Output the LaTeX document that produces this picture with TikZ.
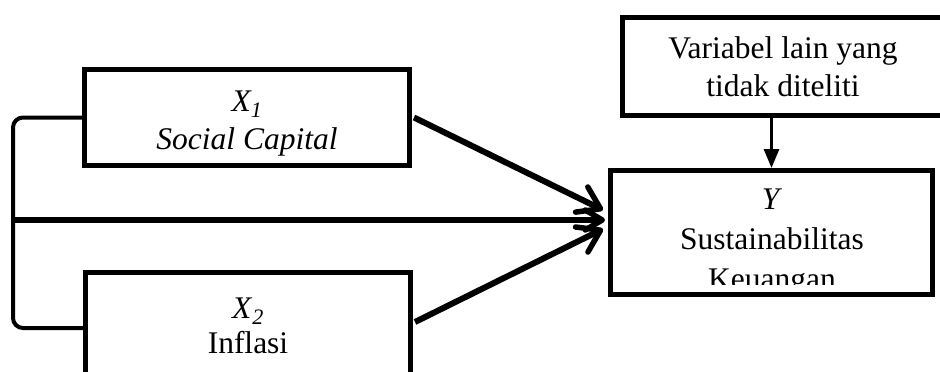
\documentclass[tikz,border=0pt]{standalone}
\usepackage{fontspec}
\setmainfont{Liberation Serif}
\usetikzlibrary{arrows.meta,calc}
\begin{document}
\begin{tikzpicture}[x=1pt,y=-1pt,
  box/.style={draw=black,line width=5pt,rectangle,inner sep=0pt},
  txt/.style={align=center,inner sep=0pt,font=\fontsize{31.5}{38}\selectfont},
  main/.style={line width=6pt,
    -{Straight Barb[length=21pt,width=28pt,line width=5.5pt,round]}},
  mainmid/.style={line width=6pt,
    -{Straight Barb[length=17pt,width=20pt,line width=5.5pt,round]}},
  bracket/.style={line width=4pt,rounded corners=10pt},
  thin/.style={line width=3pt,-{Triangle[length=19pt,width=15pt]}}]
\useasboundingbox (0,0) rectangle (940,372);
\node[box,minimum width=325pt,minimum height=96pt] (X1) at (247,117.5) {};
\node[txt] (X1t) at (247,124) {\textit{X\textsubscript{1}}\\[0pt]\textit{Social Capital}};
\node[box,minimum width=325pt,minimum height=111pt] (X2) at (248,328) {};
\node[txt] (X2t) at (248,326) {\textit{X}\textsubscript{\textit{2}}\\[-3pt]Inflasi};
\node[box,minimum width=321pt,minimum height=98pt] (V) at (783,66.5) {};
\node[txt] (Vt) at (783,67) {Variabel lain yang\\tidak diteliti};
\node[box,minimum width=322pt,minimum height=124pt] (Y) at (771.5,232.5) {};
\begin{scope}
  \clip (610,170) rectangle (933,284);
  \node[txt,font=\fontsize{31.5}{40}\selectfont] (Yt) at (772,243)
    {\textit{Y}\\Sustainabilitas\\Keuangan};
\end{scope}
\coordinate (m) at (13,220);
\coordinate (t1) at (603,210);
\coordinate (t2) at (605,220);
\coordinate (t3) at (603,229);
\draw[bracket] (X1.west) -| (m) |- (X2.west);
\draw[main] ([xshift=2pt]X1.east) -- (t1);
\draw[mainmid] (m) -- (t2);
\draw[main] ([xshift=2pt,yshift=6pt]X2.east) -- (t3);
\draw[thin] (V.south -| Y.north) -- (Y.north);
\end{tikzpicture}
\end{document}
